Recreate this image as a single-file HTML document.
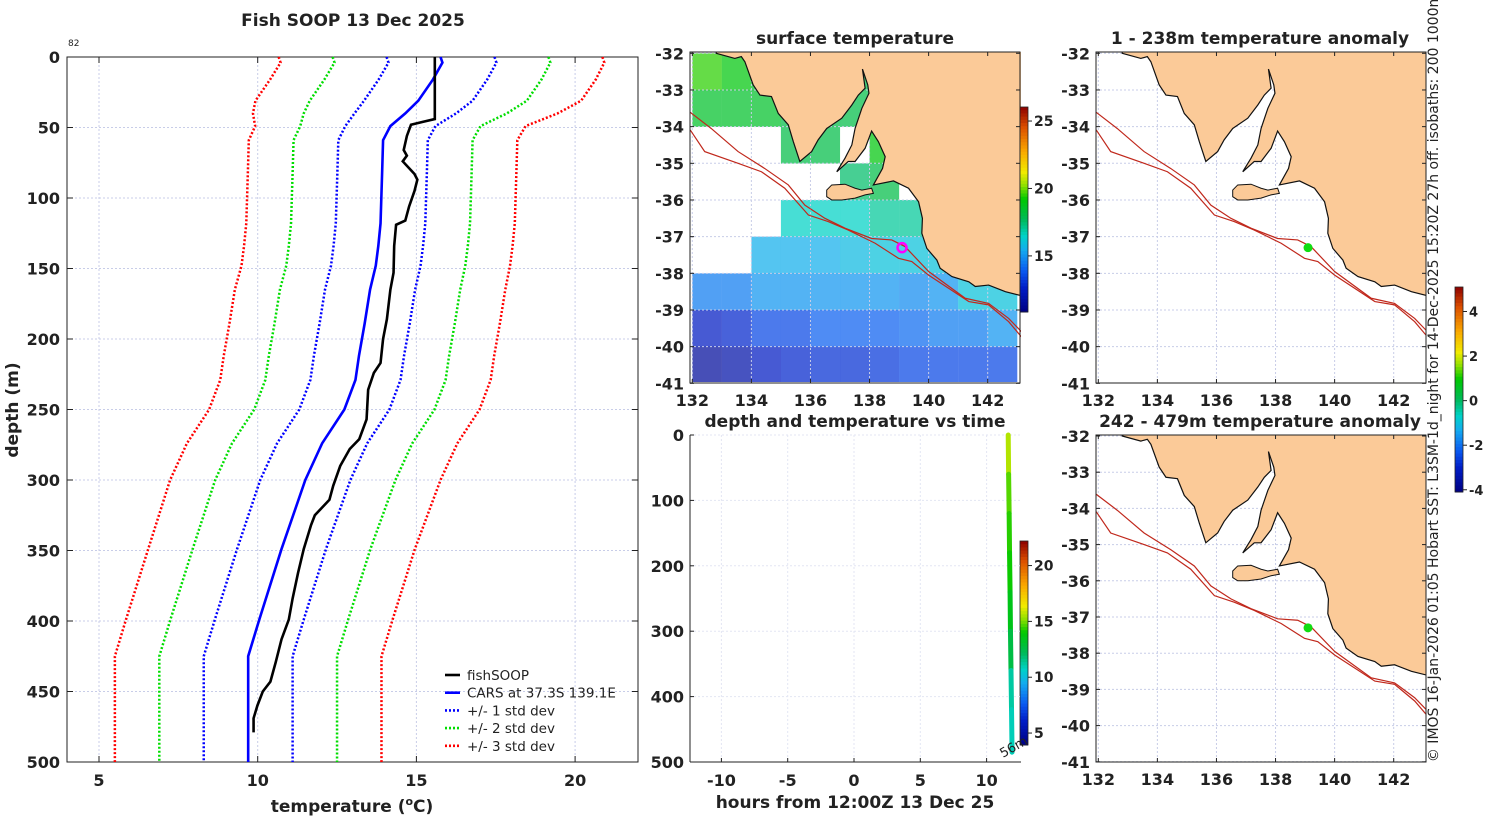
<!DOCTYPE html>
<html><head><meta charset="utf-8"><style>
body{margin:0;background:#fff;}
svg{display:block;font-family:"DejaVu Sans","Liberation Sans",sans-serif;}
.t{font-weight:bold;font-size:17px;fill:#222;}
.tk{font-weight:bold;font-size:16px;fill:#222;}
</style></head><body>
<svg id="fig" width="1500" height="820" viewBox="0 0 1500 820" xmlns="http://www.w3.org/2000/svg">
<defs>
<clipPath id="c1"><rect x="690" y="52" width="331" height="330"/></clipPath>
<clipPath id="c2"><rect x="1096" y="52" width="330" height="330"/></clipPath>
<clipPath id="c3"><rect x="1096" y="435" width="330" height="327"/></clipPath>
</defs>
<text class="t" x="353" y="26" text-anchor="middle">Fish SOOP 13 Dec 2025</text>
<text x="68" y="46" font-size="9" fill="#222">82</text>
<text class="t" x="855" y="44" text-anchor="middle">surface temperature</text>
<text class="t" x="1260" y="44" text-anchor="middle">1 - 238m temperature anomaly</text>
<text class="t" x="855" y="427" text-anchor="middle">depth and temperature vs time</text>
<text class="t" x="1260" y="427" text-anchor="middle">242 - 479m temperature anomaly</text>
<text class="t" x="352" y="812" text-anchor="middle">temperature (<tspan font-size="11" dy="-7">o</tspan><tspan dy="7">C)</tspan></text>
<text class="t" x="18" y="410" text-anchor="middle" transform="rotate(-90 18 410)">depth (m)</text>
<text class="t" x="855" y="808" text-anchor="middle">hours from 12:00Z 13 Dec 25</text>
<text x="1438" y="378" font-size="14" fill="#222" text-anchor="middle" transform="rotate(-90 1438 378)">© IMOS 16-Jan-2026 01:05 Hobart SST: L3SM-1d_night for 14-Dec-2025 15:20Z 27h off. isobaths: 200  1000m</text>
<g id="g"></g>
</svg>
<script>
// ---------- data ----------
const fishDepth=[0,44,46,48,56,66,70,74,83,87,95,106,116,119,134,153,165,186,200,217,224,236,257,271,278,290,304,314,325,332,349,366,384,399,413,429,443,450,460,469,479];
const fishTemp=[15.58,15.58,15.2,14.83,14.7,14.6,14.7,14.57,14.94,15.03,14.94,14.77,14.65,14.36,14.3,14.28,14.18,14.07,13.95,13.87,13.66,13.48,13.43,13.2,12.9,12.6,12.38,12.26,11.8,11.68,11.45,11.27,11.1,10.98,10.75,10.57,10.4,10.16,9.99,9.87,9.87];
const carsDepth=[0,4,16,31,40,49,59,82,118,134,148,165,189,212,229,250,274,300,349,399,425,500];
const carsTemp=[15.76,15.82,15.52,15.06,14.65,14.18,13.95,13.92,13.87,13.8,13.72,13.54,13.37,13.19,13.08,12.73,12.03,11.5,10.75,10.05,9.7,9.7];
const carsSd=[1.7,1.7,1.71,1.71,1.6,1.42,1.41,1.41,1.41,1.41,1.41,1.42,1.42,1.42,1.42,1.42,1.42,1.42,1.4,1.4,1.4,1.4];
const tempTicks=[5,10,15,20];
const depthTicks=[0,50,100,150,200,250,300,350,400,450,500];
const lonTicks=[132,134,136,138,140,142];
const latTicks=[-32,-33,-34,-35,-36,-37,-38,-39,-40,-41];
const sstLon=[132,133,134,135,136,137,138,139,140,141,142];
const sstLat=[-32,-33,-34,-35,-36,-37,-38,-39,-40];
const sstRows=[
[19.5,19,18.5,18.5,18,18,21,18,18,18,18],
[18.5,18.5,18.5,18,18,18,20.5,18,18,18,18],
[null,null,null,18,18,null,19,18,18,18,18],
[null,null,null,null,null,17.5,18,null,17.5,17.5,17.5],
[null,null,null,16.5,16.5,16.5,17,17,17.5,17.5,17.5],
[null,null,15.5,15.5,15.5,15.8,16,16,16,16,16],
[14.5,14.5,15,15,15,15,15,14.8,15,16,16],
[12.5,12.8,13.5,13.5,14,14,14,14.2,14.5,14.5,15],
[11.5,11.8,12.5,12.8,13,13,13.2,13.5,13.5,13.5,13.5]];
const landLon=[132.81,133.44,133.66,133.78,134.06,134.29,134.68,134.91,135.25,135.42,135.64,136.04,136.26,136.55,137.06,137.40,137.62,137.85,137.76,137.94,137.98,137.74,137.51,137.40,137.17,136.89,137.28,137.51,137.85,138.07,138.30,138.53,138.44,138.13,138.81,139.32,139.66,139.79,139.77,139.94,140.28,140.39,140.79,141.36,141.58,142.03,142.60,143.14,143.3,143.3,132.81];
const landLat=[-32.0,-32.14,-32.09,-32.23,-32.86,-33.14,-33.18,-33.64,-33.95,-34.41,-34.95,-34.68,-34.36,-34.05,-33.77,-33.41,-33.14,-32.95,-32.43,-32.86,-33.09,-33.5,-34.05,-34.5,-34.86,-35.23,-34.95,-34.95,-34.59,-34.12,-34.41,-34.82,-35.14,-35.59,-35.48,-35.68,-36.05,-36.5,-36.91,-37.32,-37.64,-37.86,-38.09,-38.23,-38.36,-38.32,-38.5,-38.61,-38.61,-31.8,-31.8];
const kiLon=[136.55,136.72,137.17,137.51,137.74,138.07,138.13,137.85,137.51,137.06,136.72,136.55];
const kiLat=[-35.73,-35.59,-35.57,-35.68,-35.73,-35.68,-35.82,-35.86,-35.95,-36.0,-36.0,-35.91];
const iso200Lon=[131.93,132.64,133.55,134.45,135.25,135.81,136.49,137.17,138.07,138.75,139.2,140.0,141.24,142.03,142.71,143.14];
const iso200Lat=[-33.61,-34.05,-34.68,-35.14,-35.59,-36.14,-36.5,-36.77,-37.05,-37.09,-37.27,-37.95,-38.68,-38.82,-39.23,-39.59];
const iso1000Lon=[131.93,132.42,133.55,134.34,135.13,135.93,136.6,137.28,138.19,138.98,139.43,140.0,141.36,142.03,142.71,143.14];
const iso1000Lat=[-34.09,-34.68,-35.0,-35.23,-35.68,-36.41,-36.59,-36.82,-37.18,-37.59,-37.68,-38.05,-38.77,-38.86,-39.32,-39.73];
const stationLon=139.1, stationLat=-37.3;
const hourTicks=[-10,-5,0,5,10];
const tDepthTicks=[0,100,200,300,400,500];
const trackHour=[11.63,11.66,11.7,11.73,11.77,11.8,11.84,11.88,11.92];
const trackDepth=[0,60,120,180,240,300,360,420,485];
const trackTemp=[15.6,14.7,14.3,14.07,13.5,12.6,11.2,10.9,9.9];
const sstCbTicks=[15,20,25];
const tCbTicks=[5,10,15,20];
const anCbTicks=[-4,-2,0,2,4];

// ---------- helpers ----------
const NS="http://www.w3.org/2000/svg";
const G=document.getElementById('g');
function mk(tag,at,par){const e=document.createElementNS(NS,tag);for(const k in at)e.setAttribute(k,at[k]);(par||G).appendChild(e);return e;}
const CS=[[0,0,0,130],[0.12,0,30,200],[0.2,10,90,240],[0.3,20,170,240],[0.37,0,210,200],[0.45,0,185,90],[0.55,0,200,0],[0.62,150,225,0],[0.68,240,235,0],[0.78,250,170,0],[0.9,220,80,0],[1,140,0,0]];
function jet(t){t=Math.max(0,Math.min(1,t));let i=0;while(i<CS.length-2&&t>CS[i+1][0])i++;
const a=CS[i],b=CS[i+1],f=(t-a[0])/(b[0]-a[0]);const m=k=>Math.round(a[k]+(b[k]-a[k])*f);return `rgb(${m(1)},${m(2)},${m(3)})`;}

// ---------- profile panel ----------
const xT=t=>99+(t-5)*31.74, yD=d=>57+d*1.41;
tempTicks.forEach(t=>{const l=mk('line',{x1:xT(t),x2:xT(t),y1:57,y2:762,stroke:'#c8cde8','stroke-dasharray':'2,2','stroke-width':1});

const tx=mk('text',{x:xT(t),y:786,'text-anchor':'middle',class:'tk'});tx.textContent=t;

mk('line',{x1:xT(t),x2:xT(t),y1:762,y2:756,stroke:'#222'});mk('line',{x1:xT(t),x2:xT(t),y1:57,y2:63,stroke:'#222'});});
depthTicks.forEach(d=>{const l=mk('line',{x1:67,x2:638,y1:yD(d),y2:yD(d),stroke:'#c8cde8','stroke-dasharray':'2,2'});

const tx=mk('text',{x:60,y:yD(d)+6,'text-anchor':'end',class:'tk'});tx.textContent=d;

mk('line',{x1:67,x2:73,y1:yD(d),y2:yD(d),stroke:'#222'});mk('line',{x1:632,x2:638,y1:yD(d),y2:yD(d),stroke:'#222'});});
const fr=mk('rect',{x:67,y:57,width:571,height:705,fill:'none',stroke:'#222'});

function poly(xs,ys,fx,fy,attrs,name){const p=mk('polyline',Object.assign({points:xs.map((v,i)=>fx(v)+','+fy(ys[i])).join(' '),fill:'none'},attrs));
return p;}
const sdCol=['#0000ff','#00dd00','#ff0000'];
[1,2,3].forEach(k=>{[-1,1].forEach(s=>{
poly(carsTemp.map((t,i)=>t+s*k*carsSd[i]),carsDepth,xT,yD,{stroke:sdCol[k-1],'stroke-width':2.5,'stroke-dasharray':'2,2'},'std-dev-'+k+(s<0?'-minus':'-plus'));});});
poly(carsTemp,carsDepth,xT,yD,{stroke:'#0000ff','stroke-width':2.6},'cars-line');
poly(fishTemp,fishDepth,xT,yD,{stroke:'#000','stroke-width':2.6},'fishsoop-line');
const legTxt=['fishSOOP','CARS at 37.3S 139.1E','+/- 1 std dev','+/- 2 std dev','+/- 3 std dev'];
const legCol=['#000','#0000ff','#0000ff','#00dd00','#ff0000'];
legTxt.forEach((s,i)=>{const y=675+i*17.7;
const l=mk('line',{x1:445,x2:460,y1:y,y2:y,stroke:legCol[i],'stroke-width':2.6,'stroke-dasharray':i>1?'2,2':'none'});

const t=mk('text',{x:467,y:y+5,'font-size':13.5,fill:'#222'});t.textContent=s;
});

// ---------- maps ----------
function drawMap(x0,y0,lat32y,pxLat,clip,withSST,name){
const lonX=l=>x0+2.3+(l-132)*29.54, latY=l=>lat32y+(-32-l)*pxLat;
const w=330,h=Math.round(pxLat*9+1);
const g=mk('g',{'clip-path':'url(#'+clip+')'});

if(withSST){sstRows.forEach((row,r)=>row.forEach((v,c)=>{if(v===null)return;
const cell=mk('rect',{x:lonX(sstLon[c]),y:latY(sstLat[r]),width:29.6,height:pxLat+0.3,fill:jet((v-10.84)/15.2),opacity:0.72},g);
}));}
lonTicks.forEach(l=>{mk('line',{x1:lonX(l),x2:lonX(l),y1:y0,y2:y0+h,stroke:'#c8cde8','stroke-dasharray':'2,2'},g);});
latTicks.forEach(l=>{mk('line',{x1:x0,x2:x0+w,y1:latY(l),y2:latY(l),stroke:'#c8cde8','stroke-dasharray':'2,2'},g);});
const land=mk('polygon',{points:landLon.map((v,i)=>lonX(v)+','+latY(landLat[i])).join(' '),fill:'#fbca98',stroke:'#111','stroke-width':1.2},g);

const ki=mk('polygon',{points:kiLon.map((v,i)=>lonX(v)+','+latY(kiLat[i])).join(' '),fill:'#fbca98',stroke:'#111','stroke-width':1},g);

[[iso200Lon,iso200Lat,'isobath-200m'],[iso1000Lon,iso1000Lat,'isobath-1000m']].forEach(a=>{
const p=mk('polyline',{points:a[0].map((v,i)=>lonX(v)+','+latY(a[1][i])).join(' '),fill:'none',stroke:'#c0281c','stroke-width':1.2},g);
});
if(withSST){const m=mk('circle',{cx:lonX(stationLon),cy:latY(stationLat),r:4.5,fill:'none',stroke:'#ff00ff','stroke-width':2.5},g);
}
else{const m=mk('circle',{cx:lonX(stationLon),cy:latY(stationLat),r:4.5,fill:'#11dd11'},g);
}
const b=mk('rect',{x:x0,y:y0,width:w,height:h,fill:'none',stroke:'#222'});

lonTicks.forEach(l=>{const t=mk('text',{x:lonX(l),y:y0+h+23,'text-anchor':'middle',class:'tk'});t.textContent=l;

mk('line',{x1:lonX(l),x2:lonX(l),y1:y0+h,y2:y0+h-4,stroke:'#222'});mk('line',{x1:lonX(l),x2:lonX(l),y1:y0,y2:y0+4,stroke:'#222'});});
latTicks.forEach(l=>{const t=mk('text',{x:x0-6,y:latY(l)+6,'text-anchor':'end',class:'tk'});t.textContent=l;

mk('line',{x1:x0,x2:x0+4,y1:latY(l),y2:latY(l),stroke:'#222'});mk('line',{x1:x0+w-4,x2:x0+w,y1:latY(l),y2:latY(l),stroke:'#222'});});
}
drawMap(690,52,53.3,36.67,'c1',true,'sst-map');
drawMap(1096,52,53.3,36.67,'c2',false,'anomaly-map-1');
drawMap(1096,435,436,36.2,'c3',false,'anomaly-map-2');

// ---------- colorbars ----------
function colorbar(x,y0,y1,vmin,vmax,ticks,name,fmt){
for(let i=0;i<64;i++){const v0=vmax-(vmax-vmin)*(i+0.5)/64;const yy=y0+(y1-y0)*i/64;
mk('rect',{x:x,y:yy,width:8,height:(y1-y0)/64+0.5,fill:jet((v0-vmin)/(vmax-vmin))});}
const f=mk('rect',{x:x,y:y0,width:8,height:y1-y0,fill:'none',stroke:'#222','stroke-width':0.8});

ticks.forEach(v=>{const yy=y1-(v-vmin)/(vmax-vmin)*(y1-y0);
mk('line',{x1:x+8,x2:x+12,y1:yy,y2:yy,stroke:'#222'});
const t=mk('text',{x:x+14,y:yy+5,'font-size':fmt,'font-weight':'bold',fill:'#222'});t.textContent=v;
});}
colorbar(1020,107,312,10.84,26.04,sstCbTicks,'sst-colorbar',14);
colorbar(1020,541,745,3.93,22.2,tCbTicks,'temp-colorbar',14);
colorbar(1455,287,492,-4.1,5.1,anCbTicks,'anomaly-colorbar',13);

// ---------- time panel ----------
const xH=hh=>854+hh*13.26, yZ=d=>435+d*0.654;
hourTicks.forEach(hh=>{mk('line',{x1:xH(hh),x2:xH(hh),y1:435,y2:762,stroke:'#e3e6f3','stroke-dasharray':'2,2'});
const t=mk('text',{x:xH(hh),y:786,'text-anchor':'middle',class:'tk'});t.textContent=hh;

mk('line',{x1:xH(hh),x2:xH(hh),y1:762,y2:758,stroke:'#222'});});
tDepthTicks.forEach(d=>{mk('line',{x1:690,x2:1021,y1:yZ(d),y2:yZ(d),stroke:'#e3e6f3','stroke-dasharray':'2,2'});
const t=mk('text',{x:684,y:yZ(d)+6,'text-anchor':'end',class:'tk'});t.textContent=d;

mk('line',{x1:690,x2:694,y1:yZ(d),y2:yZ(d),stroke:'#222'});});
mk('line',{x1:690,x2:690,y1:435,y2:762,stroke:'#222'});mk('line',{x1:690,x2:1021,y1:762,y2:762,stroke:'#222'});
for(let i=0;i<trackHour.length-1;i++){
const s=mk('line',{x1:xH(trackHour[i]),y1:yZ(trackDepth[i]),x2:xH(trackHour[i+1]),y2:yZ(trackDepth[i+1]),stroke:jet((trackTemp[i]-3.93)/18.27),'stroke-width':5,'stroke-linecap':'round'});
}
const lab=mk('text',{x:1003,y:758,'font-size':13,fill:'#222',transform:'rotate(-30 1003 758)'});lab.textContent='56m';

</script>
</body></html>
